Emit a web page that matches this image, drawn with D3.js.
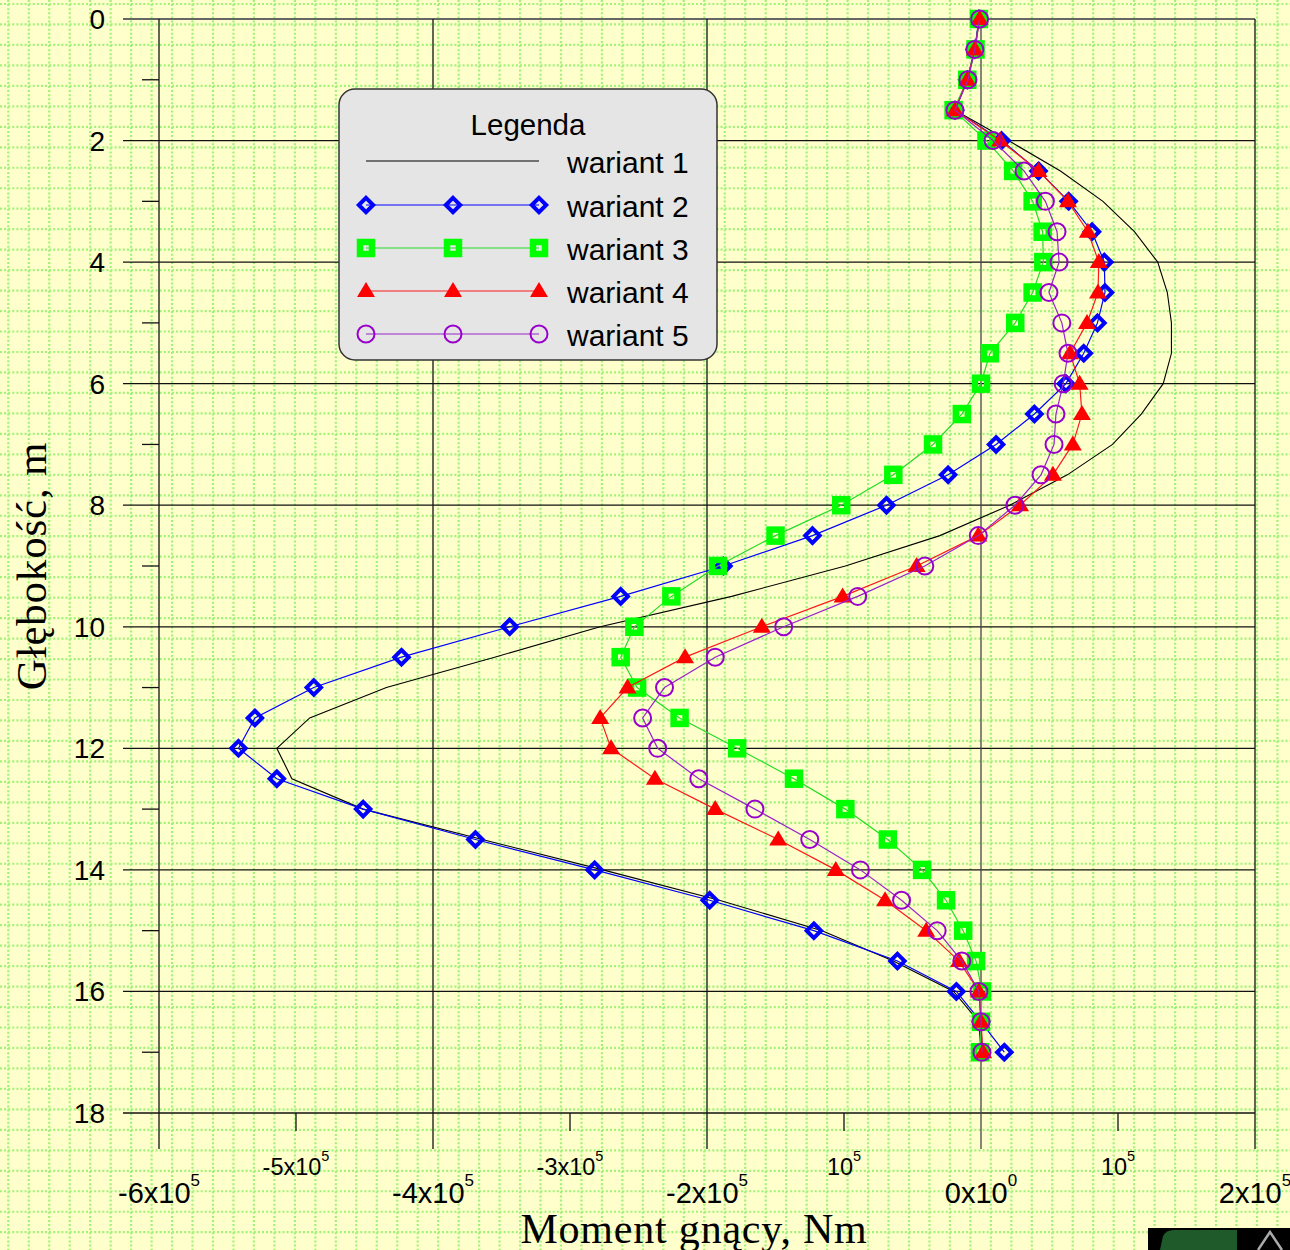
<!DOCTYPE html>
<html><head><meta charset="utf-8">
<script src="https://cdn.jsdelivr.net/npm/d3@7"></script>
<style>html,body{margin:0;padding:0;background:#ffffcc;} svg{display:block}</style>
</head><body>
<svg id="c" width="1290" height="1250"></svg>
<script>
// ---- data ----
const depths = [0,0.5,1,1.5,2,2.5,3,3.5,4,4.5,5,5.5,6,6.5,7,7.5,8,8.5,9,9.5,10,10.5,11,11.5,12,12.5,13,13.5,14,14.5,15,15.5,16,16.5,17];
const wariant1 = [-1500,-4500,-10000,-19000,20000,58000,89000,112000,129000,136000,139000,139000,133000,117000,96000,63000,21000,-30000,-99000,-182000,-278000,-355000,-434000,-490000,-514000,-503000,-451000,-364000,-276000,-191000,-116000,-64000,-20000,-1500,0];
const wariant2 = [-1500,-4500,-10000,-19000,15000,42000,64000,81000,90000,90500,85000,75000,62000,39000,11000,-24000,-69000,-123000,-188000,-263000,-344000,-423000,-487000,-530000,-542000,-514000,-451000,-369000,-282000,-198000,-122000,-61000,-18000,0,17000];
const wariant3 = [-1500,-4000,-10000,-20000,4000,23500,37700,45000,45500,37700,25000,6500,0,-14000,-35000,-64000,-102000,-150000,-192000,-226000,-253000,-263000,-251000,-220000,-178000,-136500,-99000,-68000,-43000,-25500,-13000,-3600,700,0,-700];
const wariant4 = [-1000,-4500,-10000,-19000,14000,42000,63500,78000,86000,85400,77400,65000,72000,73700,67000,52500,28500,-2000,-47000,-101000,-160000,-216000,-258000,-278000,-270000,-238000,-194000,-148000,-106000,-70000,-40000,-16000,-1500,0,1500];
const wariant5 = [-1000,-4500,-9500,-19000,8800,31400,47000,55500,57000,49600,59000,63500,60000,54700,53300,43800,24800,-2000,-41000,-90000,-144000,-194000,-231000,-247000,-236000,-206000,-165000,-125000,-88000,-58000,-32000,-14000,-1500,0,700];
const seriesNames = ["wariant 1","wariant 2","wariant 3","wariant 4","wariant 5"];
const depthTicksMajor = [0,2,4,6,8,10,12,14,16,18];
const depthTicksMinor = [1,3,5,7,9,11,13,15,17];
const xTicksMajor = [-600000,-400000,-200000,0,200000];
const xLabelsMajor = [["-6x10","5"],["-4x10","5"],["-2x10","5"],["0x10","0"],["2x10","5"]];
const xTicksMinor = [-500000,-300000,-100000,100000];
const xLabelsMinor = [["-5x10","5"],["-3x10","5"],["10","5"],["10","5"]];
const xTitle = "Moment gnący, Nm";
const yTitle = "Głębokość, m";
const legendTitle = "Legenda";

// ---- setup ----
const svg = d3.select("#c");
const W = 1290, H = 1250;
const x = d3.scaleLinear().domain([-600000, 200000]).range([159, 1255]);
const y = d3.scaleLinear().domain([0, 18]).range([19, 1113]);

svg.append("rect").attr("width", W).attr("height", H).attr("fill", "#ffffcc");

// dotted background grid
const gstep = 20.47;
const bg = svg.append("g").attr("stroke", "#a0f27a").attr("stroke-width", 2.2).attr("stroke-dasharray", "2,2.094");
bg.selectAll("line.v").data(d3.range(0, 64)).enter().append("line")
  .attr("x1", i => 8.3 + i * gstep).attr("x2", i => 8.3 + i * gstep).attr("y1", 0).attr("y2", H);
bg.selectAll("line.h").data(d3.range(0, 62)).enter().append("line")
  .attr("y1", i => 4 + i * gstep).attr("y2", i => 4 + i * gstep).attr("x1", 0).attr("x2", W);

// grid lines / axes
const ga = svg.append("g");
ga.selectAll("line.hg").data(depthTicksMajor).enter().append("line")
  .attr("x1", 123).attr("x2", x(200000)).attr("y1", d => y(d)).attr("y2", d => y(d))
  .attr("stroke", d => d === 0 ? "#666" : "#111").attr("stroke-width", d => d === 0 ? 2.2 : 1.3);
ga.selectAll("line.vg").data(xTicksMajor).enter().append("line")
  .attr("x1", d => x(d)).attr("x2", d => x(d)).attr("y1", y(0)).attr("y2", 1149)
  .attr("stroke", d => d === 0 ? "#444" : "#111").attr("stroke-width", 1.3);
ga.selectAll("line.ymt").data(depthTicksMinor).enter().append("line")
  .attr("x1", 142).attr("x2", x(-600000)).attr("y1", d => y(d)).attr("y2", d => y(d))
  .attr("stroke", "#111").attr("stroke-width", 1.3);
ga.selectAll("line.xmt").data(xTicksMinor).enter().append("line")
  .attr("x1", d => x(d)).attr("x2", d => x(d)).attr("y1", y(18)).attr("y2", 1131)
  .attr("stroke", "#111").attr("stroke-width", 1.3);

// y tick labels
svg.append("g").selectAll("text").data(depthTicksMajor).enter().append("text")
  .attr("x", 105).attr("y", d => y(d) + 10)
  .attr("text-anchor", "end").attr("font-family", "Liberation Sans, Arial, sans-serif")
  .attr("font-size", 28).attr("fill", "#000").text(d => d);

// x tick labels
function xLabel(g, val, lab, base, fs, sfs, sdy) {
  const t = g.append("text").attr("x", x(val)).attr("y", base).attr("text-anchor", "middle")
    .attr("font-family", "Liberation Sans, Arial, sans-serif").attr("fill", "#000");
  t.append("tspan").attr("font-size", fs).text(lab[0]);
  t.append("tspan").attr("font-size", sfs).attr("dy", -sdy).text(lab[1]);
}
const gx = svg.append("g");
xTicksMajor.forEach((v, i) => xLabel(gx, v, xLabelsMajor[i], 1203, 29, 17, 17));
xTicksMinor.forEach((v, i) => xLabel(gx, v, xLabelsMinor[i], 1175, 23.5, 14.5, 14));

// titles
svg.append("text").attr("x", 694).attr("y", 1243).attr("text-anchor", "middle")
  .attr("font-family", "Liberation Serif, Times New Roman, serif").attr("font-size", 42)
  .attr("letter-spacing", 0.8).attr("fill", "#000").text(xTitle);
svg.append("text").attr("transform", "translate(46,566) rotate(-90)").attr("text-anchor", "middle")
  .attr("font-family", "Liberation Serif, Times New Roman, serif").attr("font-size", 43)
  .attr("letter-spacing", 0.8).attr("fill", "#000").text(yTitle);

// ---- series ----
const line = d3.line().x(d => x(d[0])).y(d => y(d[1]));
function pts(vals) { return vals.map((v, i) => [v, depths[i]]); }

const styles = [
  {vals: wariant1, line: "#000", lw: 1.1, marker: null},
  {vals: wariant2, line: "#0000ff", lw: 1.2, marker: "diamond", color: "#0000ff"},
  {vals: wariant3, line: "#22dd22", lw: 1.2, marker: "square", color: "#00ff00"},
  {vals: wariant4, line: "#ff1a1a", lw: 1.2, marker: "triangle", color: "#ff0000"},
  {vals: wariant5, line: "#9922cc", lw: 1.2, marker: "circle", color: "#9900cc"}
];

function drawMarker(g, type, color, cx, cy) {
  if (type === "diamond") {
    const r = 7.2;
    g.append("path").attr("d", `M${cx},${cy-r}L${cx+r},${cy}L${cx},${cy+r}L${cx-r},${cy}Z`)
      .attr("fill", "none").attr("stroke", color).attr("stroke-width", 4);
  } else if (type === "square") {
    const s = 12;
    g.append("rect").attr("x", cx - s/2).attr("y", cy - s/2).attr("width", s).attr("height", s)
      .attr("fill", "none").attr("stroke", color).attr("stroke-width", 6.5);
  } else if (type === "triangle") {
    g.append("path").attr("d", `M${cx},${cy-9}L${cx+9},${cy+6}L${cx-9},${cy+6}Z`).attr("fill", color);
  } else if (type === "circle") {
    g.append("circle").attr("cx", cx).attr("cy", cy).attr("r", 8.5)
      .attr("fill", "none").attr("stroke", color).attr("stroke-width", 2);
  }
}

styles.forEach(s => {
  const g = svg.append("g");
  const p = pts(s.vals);
  g.append("path").attr("d", line(p)).attr("fill", "none").attr("stroke", s.line).attr("stroke-width", s.lw);
  if (s.marker) p.forEach(d => drawMarker(g, s.marker, s.color, x(d[0]), y(d[1])));
});

// ---- legend ----
const lg = svg.append("g");
lg.append("rect").attr("x", 339).attr("y", 89).attr("width", 378).attr("height", 271).attr("rx", 16)
  .attr("fill", "#e5e5e5").attr("stroke", "#333").attr("stroke-width", 1.5);
lg.append("text").attr("x", 528).attr("y", 135).attr("text-anchor", "middle")
  .attr("font-family", "Liberation Sans, Arial, sans-serif").attr("font-size", 29.5).text(legendTitle);
const rows = [161, 205, 248, 291, 334];
styles.forEach((s, i) => {
  const ry = rows[i];
  lg.append("line").attr("x1", 366).attr("x2", 539).attr("y1", ry).attr("y2", ry)
    .attr("stroke", s.line).attr("stroke-width", s.lw);
  if (s.marker) [366, 453, 539].forEach(mx => drawMarker(lg, s.marker, s.color, mx, ry));
  lg.append("text").attr("x", 567).attr("y", ry + 12)
    .attr("font-family", "Liberation Sans, Arial, sans-serif").attr("font-size", 30).text(seriesNames[i]);
});

// ---- corner logo ----
const lo = svg.append("g");
lo.append("rect").attr("x", 1148).attr("y", 1228).attr("width", 142).attr("height", 22).attr("fill", "#000");
lo.append("path").attr("d", "M1160,1250L1163,1236Q1166,1230 1174,1230L1237,1230L1237,1250Z").attr("fill", "#1e5a2a");
lo.append("path").attr("d", "M1258,1250L1270,1232L1282,1250").attr("fill", "none").attr("stroke", "#aaa").attr("stroke-width", 2.5);
</script>
</body></html>
